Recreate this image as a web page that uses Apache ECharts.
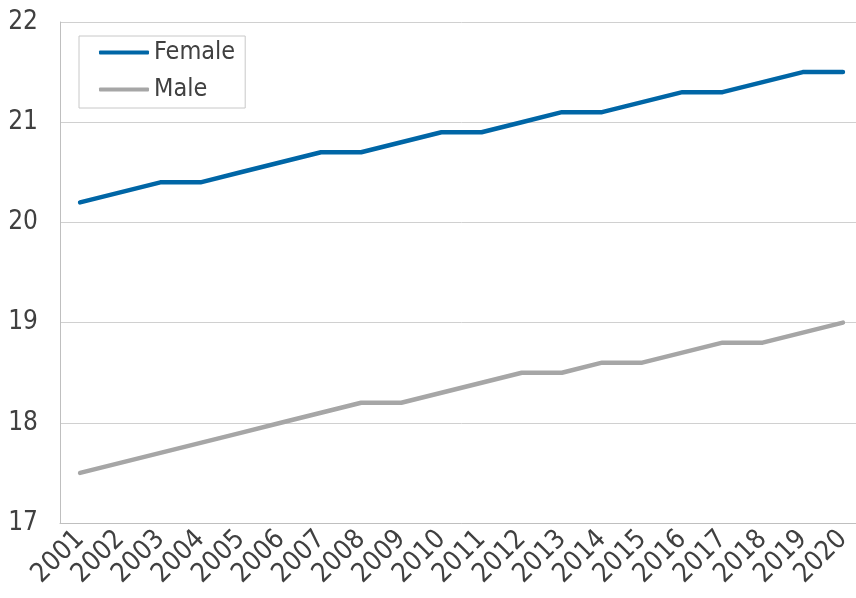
<!DOCTYPE html>
<html style="height: 100%">
<head>
    <meta charset="utf-8">
    <script src="https://cdn.jsdelivr.net/npm/echarts@6/dist/echarts.min.js"></script>
</head>
<body style="height: 100%; margin: 0; background: #fff; overflow: hidden">
<div id="container" style="width: 863px; height: 598px"></div>
<script type="text/javascript">
    var years = ['2001', '2002', '2003', '2004', '2005', '2006', '2007', '2008', '2009', '2010',
        '2011', '2012', '2013', '2014', '2015', '2016', '2017', '2018', '2019', '2020'];
    var female = [20.2, 20.3, 20.4, 20.4, 20.5, 20.6, 20.7, 20.7, 20.8, 20.9,
        20.9, 21.0, 21.1, 21.1, 21.2, 21.3, 21.3, 21.4, 21.5, 21.5];
    var male = [17.5, 17.6, 17.7, 17.8, 17.9, 18.0, 18.1, 18.2, 18.2, 18.3,
        18.4, 18.5, 18.5, 18.6, 18.6, 18.7, 18.8, 18.8, 18.9, 19.0];

    var font = '"Liberation Sans Narrow", "DejaVu Sans Condensed", sans-serif';
    var textColor = '#404040';

    // container is a bit wider than the window: the last category runs past the right edge
    var myChart = echarts.init(document.getElementById('container'));
    var option = {
        backgroundColor: '#fff',
        animation: false,
        legend: {
            orient: 'vertical',
            left: 79,
            top: 36,
            padding: [4, 10, 6, 20],
            itemGap: 12,
            itemWidth: 50,
            itemHeight: 4,
            icon: 'roundRect',
            borderColor: '#c8c8c8',
            borderWidth: 1,
            textStyle: { fontFamily: font, fontSize: 25, color: textColor },
            data: ['Female', 'Male']
        },
        grid: { left: 60, right: 0, top: 22, bottom: 75 },
        xAxis: {
            type: 'category',
            data: years,
            boundaryGap: true,
            axisLine: { lineStyle: { color: '#bfbfbf', width: 1 } },
            axisTick: { length: 6, lineStyle: { color: '#bfbfbf' } },
            axisLabel: {
                rotate: 45, interval: 0, margin: 12,
                fontFamily: font, fontSize: 27, color: textColor
            }
        },
        yAxis: {
            type: 'value',
            min: 17, max: 22, interval: 1,
            axisLine: { show: true, lineStyle: { color: '#bfbfbf' } },
            axisTick: { show: false },
            splitLine: { lineStyle: { color: '#d0d0d0', width: 1 } },
            axisLabel: { margin: 22, fontFamily: font, fontSize: 26, color: textColor }
        },
        series: [{
            name: 'Female',
            type: 'line',
            data: female,
            symbol: 'none',
            color: '#0066a6',
            lineStyle: { width: 4.5, cap: 'round', join: 'round' }
        }, {
            name: 'Male',
            type: 'line',
            data: male,
            symbol: 'none',
            color: '#a6a6a6',
            lineStyle: { width: 4.5, cap: 'round', join: 'round' }
        }]
    };
    myChart.setOption(option);
</script>
</body>
</html>
